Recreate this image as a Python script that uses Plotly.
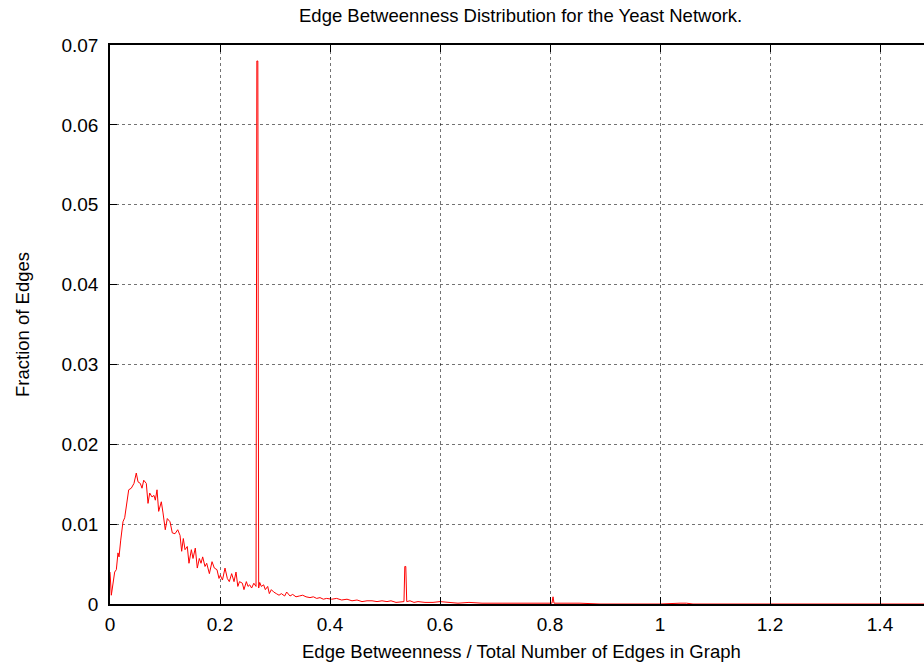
import plotly.graph_objects as go

# Edge betweenness / total edges (x) and fraction of edges (y)
x_vals = [
    0.0000, 0.0024, 0.0085, 0.0115, 0.0145, 0.0164, 0.0195, 0.0236, 0.0267, 0.0296,
    0.0340, 0.0387, 0.0436, 0.0478, 0.0509, 0.0551, 0.0582, 0.0613, 0.0660, 0.0691,
    0.0722, 0.0764, 0.0800, 0.0824, 0.0855, 0.0885, 0.0915, 0.0933, 0.0964, 0.1005,
    0.1042, 0.1091, 0.1133, 0.1182, 0.1231, 0.1273, 0.1303, 0.1333, 0.1364, 0.1405,
    0.1436, 0.1479, 0.1509, 0.1551, 0.1587, 0.1624, 0.1655, 0.1685, 0.1727, 0.1758,
    0.1807, 0.1855, 0.1897, 0.1945, 0.1982, 0.2005, 0.2045, 0.2091, 0.2133, 0.2169,
    0.2212, 0.2255, 0.2291, 0.2324, 0.2355, 0.2407, 0.2436, 0.2479, 0.2509, 0.2540,
    0.2575, 0.2615, 0.2655, 0.2670, 0.2688, 0.2703, 0.2722, 0.2751, 0.2794, 0.2824,
    0.2867, 0.2897, 0.2933, 0.2976,
    0.3024, 0.3073, 0.3115, 0.3176, 0.3212, 0.3273, 0.3321, 0.3382, 0.3442, 0.3503,
    0.3564, 0.3636, 0.3697, 0.3758, 0.3818, 0.3879, 0.3939, 0.4030, 0.4121, 0.4212,
    0.4309, 0.4400, 0.4491, 0.4582, 0.4673, 0.4764, 0.4855, 0.4945, 0.5036, 0.5109,
    0.5200, 0.5282, 0.5345, 0.5360, 0.5378, 0.5395, 0.5455, 0.5527, 0.5600, 0.5727,
    0.5873, 0.6000, 0.6255, 0.6327, 0.6527, 0.6764, 0.7145, 0.7418, 0.7618, 0.7964,
    0.8036, 0.8055, 0.8073, 0.8182, 0.8545, 0.8909, 0.9273, 0.9636, 1.0000, 1.0364,
    1.0482, 1.0600, 1.0800, 1.1200, 1.1600, 1.2000, 1.2400, 1.2800, 1.3200, 1.3600,
    1.4000, 1.4400, 1.4800,
]

y_vals = [
    0.0040, 0.0011, 0.0040, 0.0043, 0.0064, 0.0059, 0.0080, 0.0103, 0.0108, 0.0122,
    0.0143, 0.0145, 0.0151, 0.0164, 0.0153, 0.0151, 0.0145, 0.0155, 0.0151, 0.0126,
    0.0139, 0.0134, 0.0136, 0.0130, 0.0143, 0.0116, 0.0126, 0.0128, 0.0114, 0.0093,
    0.0107, 0.0103, 0.0089, 0.0088, 0.0093, 0.0086, 0.0066, 0.0082, 0.0068, 0.0072,
    0.0051, 0.0068, 0.0057, 0.0070, 0.0045, 0.0057, 0.0051, 0.0059, 0.0047, 0.0051,
    0.0038, 0.0053, 0.0045, 0.0043, 0.0032, 0.0036, 0.0030, 0.0045, 0.0032, 0.0028,
    0.0038, 0.0028, 0.0040, 0.0022, 0.0028, 0.0026, 0.0018, 0.0028, 0.0022, 0.0024,
    0.0020, 0.0026, 0.0022, 0.0680, 0.0680, 0.0020, 0.0027, 0.0022, 0.0024, 0.0018,
    0.0022, 0.0013, 0.0018, 0.0015,
    0.0013, 0.0011, 0.0013, 0.0010, 0.0015, 0.0010, 0.0012, 0.0009, 0.0010, 0.0011,
    0.0009, 0.0008, 0.0009, 0.0007, 0.0008, 0.0006, 0.0007, 0.0006, 0.0007, 0.0005,
    0.0006, 0.0004, 0.0005, 0.0003, 0.0004, 0.0004, 0.0003, 0.0004, 0.0003, 0.0004,
    0.0002, 0.0003, 0.0003, 0.0047, 0.0047, 0.0003, 0.0004, 0.0002, 0.0003, 0.0002,
    0.0002, 0.0003, 0.0002, 0.0001, 0.0002, 0.0001, 0.0001, 0.0001, 0.0001, 0.0001,
    0.0001, 0.0009, 0.0001, 0.0001, 0.0001, 0.0000, 0.0000, 0.0000, 0.0000, 0.0001,
    0.0001, 0.0000, 0.0000, 0.0000, 0.0000, 0.0000, 0.0000, 0.0000, 0.0000, 0.0000,
    0.0000, 0.0000, 0.0000,
]

x_ticks = [0, 0.2, 0.4, 0.6, 0.8, 1, 1.2, 1.4]
y_ticks = [0, 0.01, 0.02, 0.03, 0.04, 0.05, 0.06, 0.07]

FONT = "Liberation Sans, Arial, sans-serif"
TICK_SIZE = 19
LABEL_SIZE = 18.5

fig = go.Figure()
fig.add_trace(go.Scatter(
    x=x_vals, y=y_vals, mode="lines",
    line=dict(color="#ff0000", width=1),
    showlegend=False, hoverinfo="skip",
))

axis_common = dict(
    showline=True, linecolor="black", linewidth=1.5,
    ticks="inside", ticklen=7, tickcolor="black", tickwidth=1,
    showgrid=True, gridcolor="rgba(0,0,0,0.55)", griddash="dot", gridwidth=1,
    zeroline=False, automargin=False,
    tickfont=dict(family=FONT, size=TICK_SIZE, color="black"),
)

W, H = 924, 666
PW, PH = 814, 559
fig.update_layout(
    width=W, height=H,
    margin=dict(l=110, r=0, t=45, b=62, autoexpand=False),
    paper_bgcolor="white", plot_bgcolor="white",
    font=dict(family=FONT, size=LABEL_SIZE, color="black"),
    xaxis=dict(range=[0, 1.48], tickvals=x_ticks, ticktext=[str(t) for t in x_ticks],
               mirror="ticks", ticklabelstandoff=2, **axis_common),
    yaxis=dict(range=[0, 0.07], tickvals=y_ticks, ticktext=[str(t) for t in y_ticks],
               ticklabelstandoff=6, **axis_common),
    annotations=[
        dict(text="Edge Betweenness Distribution for the Yeast Network.",
             xref="paper", yref="paper", x=410 / PW, y=588 / PH,
             xanchor="center", yanchor="middle", showarrow=False,
             font=dict(family=FONT, size=LABEL_SIZE, color="black")),
        dict(text="Edge Betweenness / Total Number of Edges in Graph",
             xref="paper", yref="paper", x=411 / PW, y=-47 / PH,
             xanchor="center", yanchor="middle", showarrow=False,
             font=dict(family=FONT, size=LABEL_SIZE, color="black")),
        dict(text="Fraction of Edges", textangle=-90,
             xref="paper", yref="paper", x=-88 / PW, y=279 / PH,
             xanchor="center", yanchor="middle", showarrow=False,
             font=dict(family=FONT, size=LABEL_SIZE, color="black")),
    ],
)

fig.write_html(
    "out.html",
    config={"displayModeBar": False},
    post_script="document.body.style.margin='0';document.body.style.overflow='hidden';",
)
